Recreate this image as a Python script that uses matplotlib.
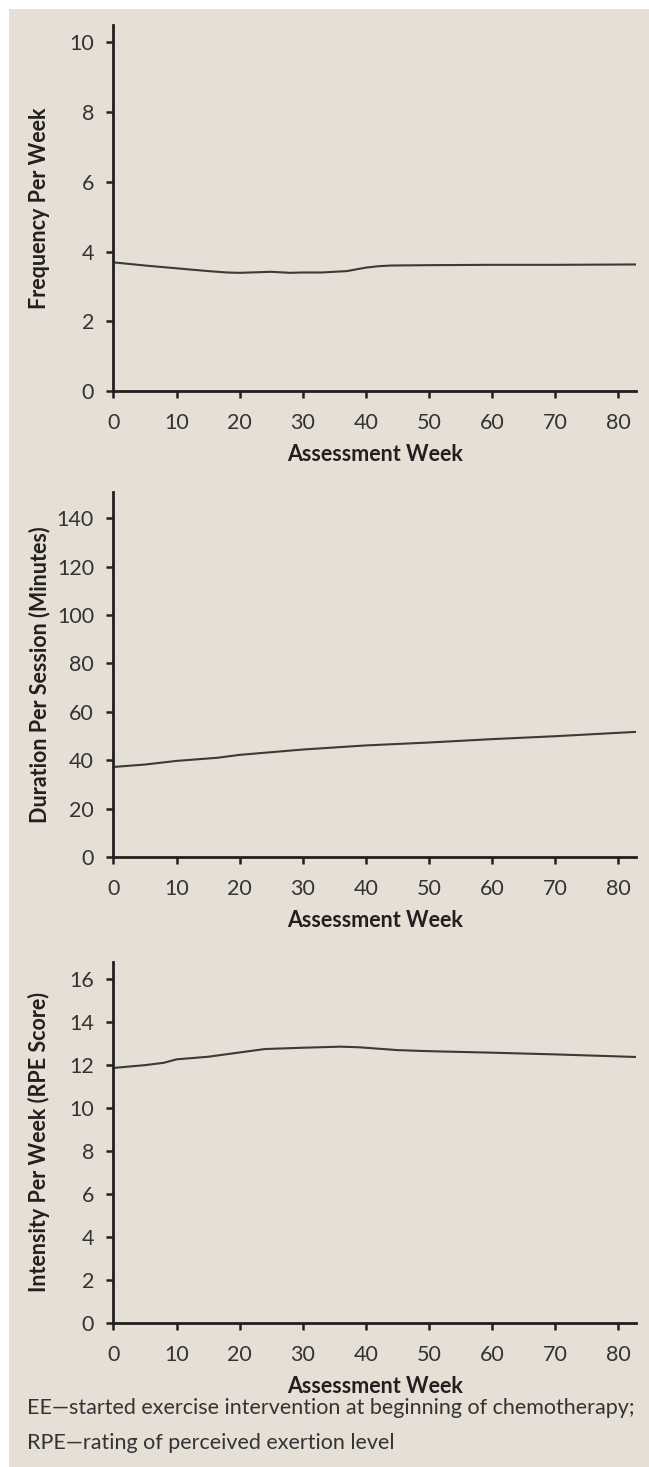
import matplotlib
matplotlib.use("Agg")
import matplotlib.pyplot as plt
from matplotlib.patches import Rectangle

# ---- data ----
freq_weeks = [0, 5, 10, 15, 18, 20, 25, 28, 30, 33, 37, 40, 42, 44, 50, 60, 70, 82.8]
freq_vals = [3.69, 3.60, 3.52, 3.44, 3.40, 3.39, 3.42, 3.39, 3.40, 3.40, 3.44, 3.54, 3.58, 3.60, 3.61, 3.62, 3.62, 3.63]

dur_weeks = [0, 5, 10, 16.5, 20, 25, 30, 40, 50, 60, 70, 82.8]
dur_vals = [37.2, 38.2, 39.7, 41.0, 42.2, 43.3, 44.4, 46.1, 47.3, 48.7, 49.9, 51.7]

int_weeks = [0, 5, 8, 10, 15, 20, 24, 30, 36, 39, 45, 50, 60, 70, 82.8]
int_vals = [11.87, 12.0, 12.11, 12.27, 12.39, 12.59, 12.75, 12.81, 12.86, 12.83, 12.70, 12.65, 12.58, 12.50, 12.38]

x_ticks = [0, 10, 20, 30, 40, 50, 60, 70, 80]
freq_ticks = [0, 2, 4, 6, 8, 10]
dur_ticks = [0, 20, 40, 60, 80, 100, 120, 140]
int_ticks = [0, 2, 4, 6, 8, 10, 12, 14, 16]

x_label = "Assessment Week"
y_labels = ["Frequency Per Week", "Duration Per Session (Minutes)", "Intensity Per Week (RPE Score)"]
footnote_lines = ["EE\u2014started exercise intervention at beginning of chemotherapy;",
                  "RPE\u2014rating of perceived exertion level"]

BG = "#e6dfd5"
INK = "#231f20"
LINE = "#3a3a3a"
W, H = 649, 1467

plt.rcParams["font.family"] = ["Lato", "DejaVu Sans"]

fig = plt.figure(figsize=(W / 100, H / 100), dpi=100)
fig.patch.set_facecolor("white")
fig.patches.append(Rectangle((9 / W, 0), 1, 1 - 9 / H, transform=fig.transFigure,
                             facecolor=BG, edgecolor="none", zorder=-10))

panels = [
    (25, 391, (0, 10.5), freq_ticks, freq_weeks, freq_vals, y_labels[0]),
    (492, 857, (0, 150.8), dur_ticks, dur_weeks, dur_vals, y_labels[1]),
    (962, 1323, (0, 16.8), int_ticks, int_weeks, int_vals, y_labels[2]),
]

x0, x1 = 113.4, 636
for top, bot, ylim, yt, xs, ys, ylab in panels:
    ax = fig.add_axes([x0 / W, 1 - bot / H, (x1 - x0) / W, (bot - top) / H])
    ax.set_facecolor("none")
    ax.plot(xs, ys, color=LINE, lw=1.5, solid_capstyle="butt")
    ax.set_xlim(0, 82.8)
    ax.set_ylim(*ylim)
    ax.set_xticks(x_ticks)
    ax.set_yticks(yt)
    for s in ["top", "right"]:
        ax.spines[s].set_visible(False)
    for s in ["left", "bottom"]:
        ax.spines[s].set_color(INK)
        ax.spines[s].set_linewidth(2.0)
    ax.tick_params(axis="both", direction="out", length=5, width=1.8, color=INK,
                   labelcolor="#333333", labelsize=15.5)
    ax.tick_params(axis="x", pad=11)
    ax.tick_params(axis="y", pad=9)
    ax.set_xlabel(x_label, fontsize=15.5, fontweight="bold", color=INK, labelpad=8)
    ax.set_ylabel(ylab, fontsize=15.5, fontweight="bold", color=INK)
    ax.yaxis.set_label_coords(-(113.4 - 50) / (x1 - x0), 0.5)

fig.text(27 / W, 1 - 1408 / H, footnote_lines[0], fontsize=15.5, color="#333333",
         ha="left", va="center")
fig.text(27 / W, 1 - 1443 / H, footnote_lines[1], fontsize=15.5, color="#333333",
         ha="left", va="center")

fig.savefig("out.png", dpi=100, facecolor=fig.get_facecolor())
